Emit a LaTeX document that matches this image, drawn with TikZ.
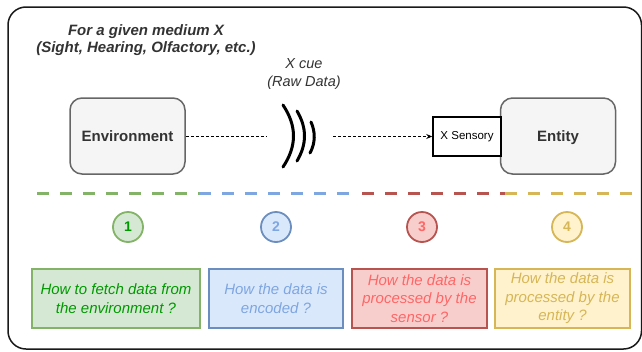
\documentclass[tikz,border=0pt]{standalone}
\usepackage{fontspec}
\setmainfont{Liberation Sans}
\usetikzlibrary{arrows.meta}
\definecolor{txtdark}{HTML}{333333}
\definecolor{boxfill}{HTML}{F5F5F5}
\definecolor{boxline}{HTML}{666666}
\definecolor{gfill}{HTML}{D5E8D4}\definecolor{gline}{HTML}{82B366}\definecolor{gtext}{HTML}{009900}
\definecolor{bfill}{HTML}{DAE8FC}\definecolor{bline}{HTML}{6C8EBF}\definecolor{btext}{HTML}{7EA6E0}\definecolor{bdash}{HTML}{7EA6E0}
\definecolor{rfill}{HTML}{F8CECC}\definecolor{rline}{HTML}{B85450}\definecolor{rtext}{HTML}{FF6666}
\definecolor{yfill}{HTML}{FFF2CC}\definecolor{yline}{HTML}{D6B656}\definecolor{ytext}{HTML}{D6B656}
\begin{document}
\begin{tikzpicture}[x=1pt,y=-1pt,
  bigbox/.style={draw=boxline,fill=boxfill,line width=1.5pt,rounded corners=12pt,
    minimum width=115pt,minimum height=76pt,inner sep=0pt,text height=10.5pt,text depth=0pt,
    font=\fontsize{15}{18}\selectfont\bfseries,text=txtdark},
  numcirc/.style={circle,line width=1.8pt,minimum size=30pt,inner sep=0pt,
    font=\fontsize{14}{16}\selectfont\bfseries},
  qbox/.style={draw,line width=1.5pt,minimum width=#1,minimum height=59pt,inner sep=0pt,
    align=center,font=\fontsize{15}{18.5}\selectfont\itshape},
  sep/.style={line width=3pt,dash pattern=on 12pt off 11pt},
  dotline/.style={line width=0.8pt,dash pattern=on 3pt off 2pt},
  wave/.style={line width=3pt,line cap=round}]
\useasboundingbox (0,0) rectangle (642,351);
\fill[white] (0,0) rectangle (642,351);
% outer frame
\draw[line width=1.5pt,rounded corners=18pt,draw=black!90] (8,7) rectangle (641.5,349);
% title
\node[align=center,font=\fontsize{15}{16.5}\selectfont\bfseries\itshape,text=txtdark] (title) at (146,40)
  {For a given medium X\\(Sight, Hearing, Olfactory, etc.)};
\node[align=center,font=\fontsize{14.5}{18}\selectfont\itshape,text=txtdark] (cue) at (304,74)
  {X cue\\(Raw Data)};
% boxes
\node[bigbox] (env) at (127.5,136) {Environment};
\node[bigbox] (ent) at (558,136) {Entity};
\node[draw=black,fill=white,line width=1.5pt,minimum width=68pt,minimum height=39pt,inner sep=0pt,
  font=\fontsize{11.5}{13}\selectfont] (sens) at (467,136.5) {X Sensory};
% waves
\draw[wave] (283,105) .. controls (297,126) and (297,146) .. (283,167);
\draw[wave] (297,111) .. controls (307,128) and (307,144) .. (297,161);
\draw[wave] (311,122) .. controls (315.5,132) and (315.5,143) .. (310,153);
% connectors
\coordinate (wl) at (267,136);
\coordinate (wr) at (333,136.5);
\draw[dotline] (env.east) -- (wl);
\draw[dotline,-{Stealth[length=6pt,width=5pt]}] (wr) -- (sens.west);
% separator dashed lines
\coordinate (g0) at (37,193);\coordinate (g1) at (199,193);
\coordinate (b0) at (199,193);\coordinate (b1) at (355,193);
\coordinate (r0) at (362,193);\coordinate (r1) at (505,193);
\coordinate (y0) at (505,193);\coordinate (y1) at (642,193);
\draw[sep,draw=gline] (g0) -- (g1);
\draw[sep,draw=bdash] (b0) -- (b1);
\draw[sep,draw=rline] (r0) -- (r1);
\draw[sep,draw=yline] (y0) -- (y1);
% numbered circles
\node[numcirc,draw=gline,fill=gfill,text=gtext] (c1) at (128,227) {1};
\node[numcirc,draw=bline,fill=bfill,text=btext] (c2) at (276,227) {2};
\node[numcirc,draw=rline,fill=rfill,text=rtext] (c3) at (422,227) {3};
\node[numcirc,draw=yline,fill=yfill,text=ytext] (c4) at (567,227) {4};
% question boxes
\node[qbox=168pt,draw=gline,fill=gfill,text=gtext] (q1) at (116,298.5)
  {How to fetch data from\\the environment ?};
\node[qbox=134pt,draw=bline,fill=bfill,text=btext] (q2) at (276,298.5)
  {How the data is\\encoded ?};
\node[qbox=135pt,draw=rline,fill=rfill,text=rtext] (q3) at (419.5,298.5)
  {How the data is\\processed by the\\sensor ?};
\node[qbox=135pt,draw=yline,fill=yfill,text=ytext] (q4) at (562.5,298.5)
  {How the data is\\processed by the\\entity ?};
\end{tikzpicture}
\end{document}
